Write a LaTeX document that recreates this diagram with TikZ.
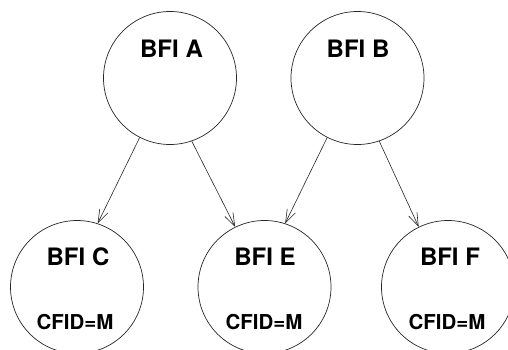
\documentclass[tikz,border=0pt]{standalone}
\usepackage{fontspec}
\setmainfont{TeX Gyre Heros}
\usetikzlibrary{arrows.meta}
\begin{document}
\begin{tikzpicture}[x=1pt,y=-1pt,
  bfi/.style={circle,draw=black!85,line width=0.7pt,minimum size=133pt,inner sep=0pt},
  bfititle/.style={font=\fontsize{24}{25}\selectfont\bfseries,anchor=base,inner sep=0pt},
  cfid/.style={font=\fontsize{20.5}{21}\selectfont\bfseries,anchor=base,inner sep=0pt},
  link/.style={draw=black!85,line width=0.6pt,-{Straight Barb[length=13pt,width=9pt]}}]
  \useasboundingbox (0,0) rectangle (508,349);
  \clip (0,0) rectangle (508,349);
  % parent nodes
  \node[bfi] (A) at (170,78) {};
  \node[bfi] (B) at (357.5,78) {};
  % child nodes
  \node[bfi] (C) at (77,287) {};
  \node[bfi] (E) at (264.5,287) {};
  \node[bfi] (F) at (448,287) {};
  % titles
  \node[bfititle] (tA) at (171.5,57) {BFI A};
  \node[bfititle] (tB) at (358,57) {BFI B};
  \node[bfititle] (tC) at (78,265) {BFI C};
  \node[bfititle] (tE) at (265,265) {BFI E};
  \node[bfititle] (tF) at (450,265) {BFI F};
  \node[cfid] (mC) at (75,329) {CFID=M};
  \node[cfid] (mE) at (264,329) {CFID=M};
  \node[cfid] (mF) at (447,329) {CFID=M};
  % links
  \draw[link] (A.243) -- (C.72);
  \draw[link] (A.289) -- (E.116);
  \draw[link] (B.243) -- (E.72);
  \draw[link] (B.289) -- (F.116);
\end{tikzpicture}
\end{document}
